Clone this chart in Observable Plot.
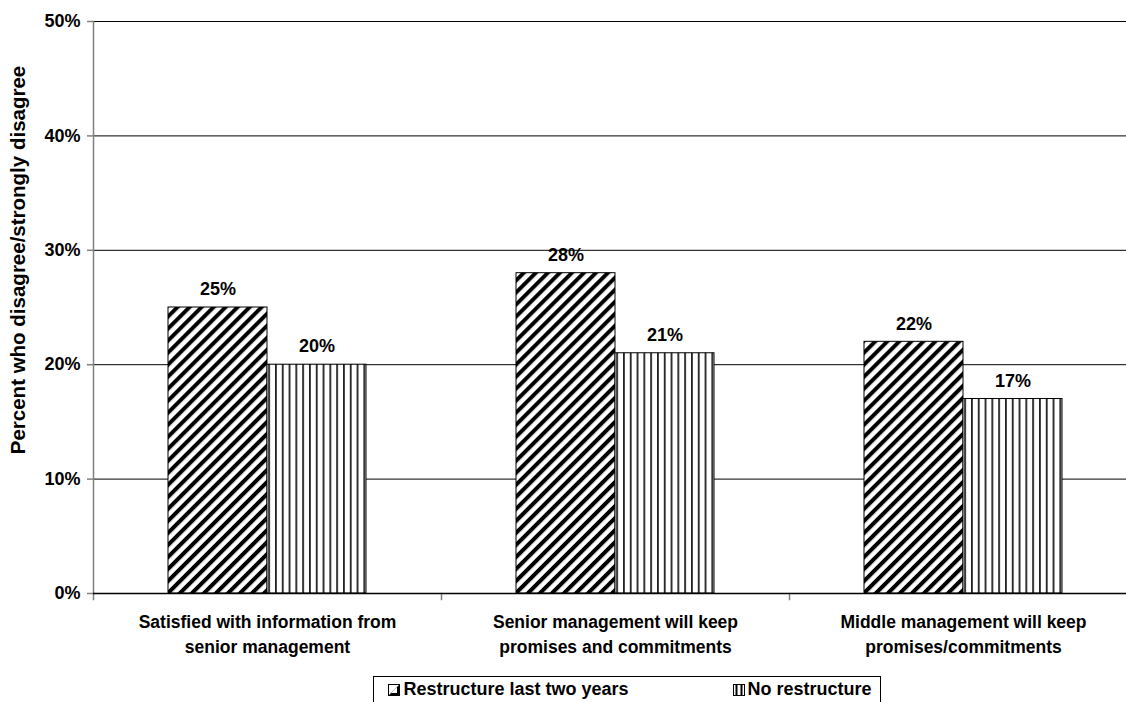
<!DOCTYPE html>
<html>
<head>
<meta charset="utf-8">
<script src="https://cdn.jsdelivr.net/npm/d3@7"></script>
<script src="https://cdn.jsdelivr.net/npm/@observablehq/plot@0.6"></script>
<style>
  html, body { margin: 0; padding: 0; overflow: hidden; background: #fff; width: 1126px; height: 702px; }
  #chart { position: absolute; left: 0; top: 0; }
  #ylabel {
    position: absolute; left: 18px; top: 260px; transform: translate(-50%, -50%) rotate(-90deg);
    white-space: nowrap; font-family: "Liberation Sans", Arial, sans-serif; font-weight: bold; font-size: 20.5px; line-height: 22px;
  }
  #legend {
    position: absolute; left: 373px; top: 676px; width: 508px; height: 40px;
    border: 1px solid #000; box-sizing: border-box; background: #fff;
    font-family: "Liberation Sans", Arial, sans-serif; font-weight: bold; font-size: 18px;
    display: flex; justify-content: center; align-items: flex-start; gap: 104px; padding-top: 2px; padding-left: 6px;
  }
  .item { display: flex; align-items: center; gap: 3px; line-height: 21px; }
  .item svg { display: block; }
</style>
</head>
<body>
<svg width="0" height="0" style="position:absolute">
  <defs>
    <pattern id="diag" patternUnits="userSpaceOnUse" width="8.5" height="8.5" patternTransform="rotate(45)">
      <rect x="0" y="0" width="8.5" height="8.5" fill="#fff"></rect>
      <rect x="0" y="0" width="4" height="8.5" fill="#000"></rect>
    </pattern>
    <pattern id="vert" patternUnits="userSpaceOnUse" width="6.8" height="10" x="2">
      <rect x="0" y="0" width="6.8" height="10" fill="#fff"></rect>
      <rect x="0" y="0" width="1.8" height="10" fill="#222"></rect>
    </pattern>
  </defs>
</svg>
<div id="chart"></div>
<div id="ylabel"></div>
<div id="legend"></div>
<script>
const categories = [
  "Satisfied with information from senior management",
  "Senior management will keep promises and commitments",
  "Middle management will keep promises/commitments"
];
const categoryLabels = [
  "Satisfied with information from\nsenior management",
  "Senior management will keep\npromises and commitments",
  "Middle management will keep\npromises/commitments"
];
const seriesNames = ["Restructure last two years", "No restructure"];
const restructure = [25, 28, 22];
const noRestructure = [20, 21, 17];
const yTicks = [0, 10, 20, 30, 40, 50];
const yLabel = "Percent who disagree/strongly disagree";
const seriesFills = ["url(#diag)", "url(#vert)"];

const data = categories.flatMap((c, i) => [
  {category: c, series: seriesNames[0], value: restructure[i]},
  {category: c, series: seriesNames[1], value: noRestructure[i]}
]);
const labelOf = new Map(categories.map((c, i) => [c, categoryLabels[i]]));

const plot = Plot.plot({
  width: 1126,
  height: 665,
  marginLeft: 92,
  marginRight: -11.5,
  marginTop: 21,
  marginBottom: 72,
  style: {fontFamily: "'Liberation Sans', Arial, sans-serif", fontSize: "18px", fontWeight: "bold", color: "#000", background: "transparent", overflow: "hidden"},
  fx: {domain: categories, padding: 0, label: null},
  x: {domain: seriesNames, paddingInner: 0, paddingOuter: 0.7425, axis: null},
  y: {domain: [0, 50], axis: null},
  marks: [
    Plot.gridY(yTicks, {stroke: "#000", strokeOpacity: 1, strokeWidth: 1}),
    Plot.frame({anchor: "left", stroke: "#808080", strokeWidth: 1.5, facetAnchor: "left"}),
    Plot.frame({anchor: "left", stroke: "#808080", strokeWidth: 1.5, insetTop: 572, insetBottom: -6}),
    Plot.axisY(yTicks, {
      anchor: "left", tickSize: 6, tickPadding: 7, stroke: "#808080", strokeWidth: 1.5,
      tickFormat: d => d + "%", fontWeight: "bold", fontSize: 18, label: null
    }),
    Plot.axisFx({anchor: "bottom", tickSize: 0, tickPadding: 17, lineHeight: 1.43, tickFormat: d => labelOf.get(d), fontWeight: "bold", fontSize: 17.5, label: null}),
    Plot.barY(data.filter(d => d.series === seriesNames[0]), {fx: "category", x: "series", y: "value", fill: seriesFills[0], stroke: "#000", strokeWidth: 1}),
    Plot.barY(data.filter(d => d.series === seriesNames[1]), {fx: "category", x: "series", y: "value", fill: seriesFills[1], stroke: "#000", strokeWidth: 1}),
    Plot.ruleY([0], {stroke: "#000", strokeWidth: 1.5}),
    Plot.text(data, {fx: "category", x: "series", y: "value", text: d => d.value + "%", dy: -18, fontWeight: "bold", fontSize: 18})
  ]
});
document.getElementById("chart").appendChild(plot);
document.getElementById("ylabel").textContent = yLabel;

const swatchSvgs = [
  `<svg width="12" height="12" viewBox="0 0 12 12"><rect x="0.5" y="0.5" width="11" height="11" fill="#fff" stroke="#000"/><polygon points="11.5,0.5 11.5,11.5 0.5,11.5" fill="#000"/><polygon points="9,3 9,9 3,9" fill="#fff"/></svg>`,
  `<svg width="12" height="12" viewBox="0 0 12 12"><rect x="0.5" y="0.5" width="11" height="11" fill="#fff" stroke="#000"/><rect x="2.5" y="0.5" width="2" height="11" fill="#000"/><rect x="7.5" y="0.5" width="2" height="11" fill="#000"/></svg>`
];
const legend = document.getElementById("legend");
seriesNames.forEach((name, i) => {
  const item = document.createElement("div");
  item.className = "item";
  item.innerHTML = swatchSvgs[i] + "<span>" + name + "</span>";
  legend.appendChild(item);
});
</script>
</body>
</html>
